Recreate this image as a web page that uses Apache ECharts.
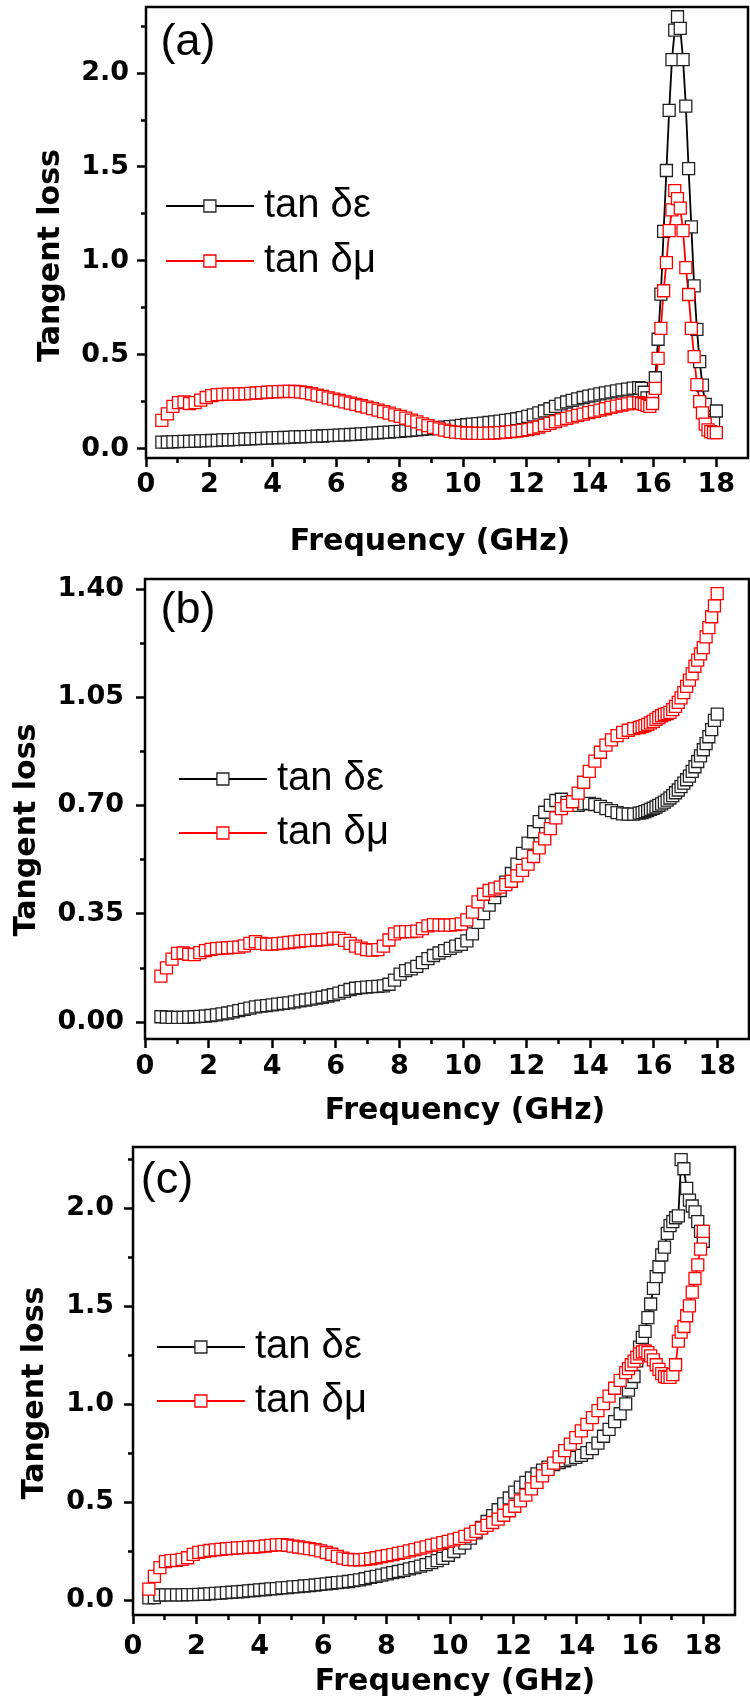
<!DOCTYPE html>
<html lang="en">
<head>
<meta charset="UTF-8">
<title>Tangent loss</title>
<script src="https://cdn.jsdelivr.net/npm/echarts@6/dist/echarts.min.js"></script>
</head>
<body style="margin:0;background:#fff">
<div id="container" style="width:750px;height:1704px"></div>
<script>
// frequency grid (GHz): coarse up to 15.55, fine after
var freq = [
  0.5, 0.675, 0.85, 1.025, 1.2, 1.375, 1.55, 1.725, 1.9, 2.075,
  2.25, 2.425, 2.6, 2.775, 2.95, 3.125, 3.3, 3.475, 3.65, 3.825,
  4.0, 4.175, 4.35, 4.525, 4.7, 4.875, 5.05, 5.225, 5.4, 5.575,
  5.75, 5.925, 6.1, 6.275, 6.45, 6.625, 6.8, 6.975, 7.15, 7.325,
  7.5, 7.675, 7.85, 8.025, 8.2, 8.375, 8.55, 8.725, 8.9, 9.075,
  9.25, 9.425, 9.6, 9.775, 9.95, 10.125, 10.3, 10.475, 10.65, 10.825,
  11.0, 11.175, 11.35, 11.525, 11.7, 11.875, 12.05, 12.225, 12.4, 12.575,
  12.75, 12.925, 13.1, 13.275, 13.45, 13.625, 13.8, 13.975, 14.15, 14.325,
  14.5, 14.675, 14.85, 15.025, 15.2, 15.375, 15.55,
  15.6375, 15.725, 15.8125, 15.9, 15.9875, 16.075, 16.1625, 16.25, 16.3375, 16.425,
  16.5125, 16.6, 16.6875, 16.775, 16.8625, 16.95, 17.0375, 17.125, 17.2125, 17.3,
  17.3875, 17.475, 17.5625, 17.65, 17.7375, 17.825, 17.9125, 18.0
];

// (a)
var epsA = [
  0.035, 0.035, 0.036, 0.037, 0.038, 0.039, 0.040, 0.041, 0.042, 0.043,
  0.044, 0.046, 0.047, 0.048, 0.049, 0.051, 0.052, 0.053, 0.054, 0.056,
  0.057, 0.058, 0.059, 0.060, 0.062, 0.063, 0.064, 0.065, 0.066, 0.067,
  0.069, 0.070, 0.072, 0.073, 0.075, 0.076, 0.078, 0.080, 0.082, 0.084,
  0.086, 0.088, 0.090, 0.092, 0.095, 0.097, 0.100, 0.102, 0.105, 0.108,
  0.111, 0.114, 0.117, 0.120, 0.124, 0.127, 0.130, 0.133, 0.136, 0.139,
  0.142, 0.146, 0.150, 0.154, 0.159, 0.165, 0.172, 0.180, 0.190, 0.200,
  0.212, 0.225, 0.238, 0.248, 0.257, 0.265, 0.272, 0.279, 0.285, 0.291,
  0.297, 0.302, 0.307, 0.312, 0.317, 0.322, 0.325,
  0.320, 0.300, 0.270, 0.235, 0.270, 0.377, 0.582, 0.822, 1.156, 1.480,
  1.800, 2.070, 2.227, 2.298, 2.236, 2.070, 1.823, 1.490, 1.180, 0.866,
  0.635, 0.463, 0.338, 0.235, 0.165, 0.150, 0.140, 0.200
];
var muA = [
  0.150, 0.185, 0.225, 0.245, 0.248, 0.240, 0.245, 0.258, 0.272, 0.282,
  0.287, 0.289, 0.290, 0.290, 0.291, 0.292, 0.294, 0.296, 0.298, 0.300,
  0.302, 0.303, 0.304, 0.305, 0.304, 0.302, 0.298, 0.292, 0.285, 0.278,
  0.270, 0.263, 0.256, 0.249, 0.242, 0.235, 0.228, 0.221, 0.213, 0.205,
  0.197, 0.189, 0.180, 0.171, 0.162, 0.152, 0.142, 0.132, 0.122, 0.113,
  0.105, 0.098, 0.092, 0.088, 0.085, 0.083, 0.082, 0.081, 0.081, 0.082,
  0.083, 0.085, 0.087, 0.090, 0.093, 0.097, 0.101, 0.107, 0.115, 0.124,
  0.134, 0.144, 0.153, 0.161, 0.169, 0.177, 0.184, 0.191, 0.198, 0.205,
  0.212, 0.219, 0.226, 0.232, 0.238, 0.243, 0.245,
  0.240, 0.235, 0.230, 0.225, 0.240, 0.320, 0.480, 0.640, 0.840, 0.990,
  1.160, 1.270, 1.373, 1.330, 1.280, 1.160, 0.963, 0.820, 0.640, 0.490,
  0.340, 0.250, 0.190, 0.130, 0.100, 0.090, 0.085, 0.085
];

// (b)
var epsB = [
  0.017, 0.016, 0.015, 0.015, 0.015, 0.016, 0.017, 0.018, 0.019, 0.021,
  0.023, 0.026, 0.029, 0.033, 0.037, 0.041, 0.045, 0.049, 0.051, 0.053,
  0.055, 0.058, 0.060, 0.062, 0.065, 0.068, 0.071, 0.074, 0.077, 0.080,
  0.084, 0.088, 0.093, 0.099, 0.105, 0.109, 0.111, 0.113, 0.114, 0.115,
  0.117, 0.122, 0.135, 0.155, 0.166, 0.172, 0.180, 0.192, 0.205, 0.215,
  0.223, 0.231, 0.238, 0.245, 0.251, 0.262, 0.285, 0.322, 0.350, 0.378,
  0.402, 0.425, 0.452, 0.480, 0.510, 0.545, 0.578, 0.615, 0.648, 0.678,
  0.700, 0.716, 0.720, 0.710, 0.700, 0.700, 0.705, 0.707, 0.703, 0.697,
  0.690, 0.683, 0.677, 0.673, 0.672, 0.672, 0.675,
  0.677, 0.680, 0.683, 0.687, 0.691, 0.695, 0.700, 0.705, 0.711, 0.717,
  0.724, 0.732, 0.741, 0.750, 0.761, 0.772, 0.783, 0.795, 0.810, 0.825,
  0.842, 0.860, 0.880, 0.900, 0.922, 0.945, 0.975, 0.995
];
var muB = [
  0.148, 0.175, 0.203, 0.222, 0.223, 0.219, 0.218, 0.224, 0.231, 0.235,
  0.237, 0.239, 0.240, 0.241, 0.242, 0.246, 0.254, 0.260, 0.254, 0.252,
  0.252, 0.253, 0.255, 0.257, 0.259, 0.261, 0.263, 0.264, 0.265, 0.266,
  0.268, 0.271, 0.270, 0.264, 0.254, 0.245, 0.239, 0.234, 0.232, 0.234,
  0.245, 0.265, 0.285, 0.291, 0.292, 0.292, 0.294, 0.302, 0.311, 0.315,
  0.314, 0.313, 0.313, 0.315, 0.317, 0.330, 0.355, 0.388, 0.413, 0.425,
  0.430, 0.436, 0.444, 0.455, 0.472, 0.490, 0.510, 0.535, 0.563, 0.592,
  0.625, 0.660, 0.690, 0.700, 0.712, 0.740, 0.775, 0.810, 0.843, 0.872,
  0.895, 0.912, 0.926, 0.936, 0.943, 0.948, 0.952,
  0.955, 0.958, 0.962, 0.967, 0.972, 0.978, 0.984, 0.990, 0.994, 0.997,
  1.001, 1.010, 1.020, 1.033, 1.048, 1.065, 1.085, 1.105, 1.125, 1.150,
  1.170, 1.190, 1.210, 1.245, 1.275, 1.310, 1.345, 1.385
];

// (c)
var epsC = [
  0.010, 0.012, 0.025, 0.026, 0.026, 0.026, 0.026, 0.027, 0.027, 0.028,
  0.029, 0.031, 0.033, 0.035, 0.037, 0.039, 0.041, 0.043, 0.046, 0.048,
  0.051, 0.053, 0.056, 0.058, 0.061, 0.063, 0.066, 0.068, 0.071, 0.073,
  0.076, 0.079, 0.082, 0.085, 0.088, 0.091, 0.094, 0.098, 0.102, 0.108,
  0.115, 0.120, 0.126, 0.133, 0.139, 0.145, 0.151, 0.158, 0.165, 0.172,
  0.180, 0.190, 0.200, 0.212, 0.228, 0.247, 0.265, 0.290, 0.315, 0.342,
  0.370, 0.400, 0.430, 0.460, 0.490, 0.520, 0.550, 0.575, 0.600, 0.622,
  0.643, 0.662, 0.678, 0.690, 0.700, 0.710, 0.718, 0.727, 0.738, 0.752,
  0.772, 0.800, 0.835, 0.870, 0.910, 0.950, 1.000,
  1.070, 1.110, 1.140, 1.220, 1.290, 1.340, 1.370, 1.440, 1.510, 1.590,
  1.650, 1.700, 1.760, 1.800, 1.870, 1.910, 1.930, 1.950, 1.960, 2.247,
  2.200, 2.100, 2.040, 2.010, 1.980, 1.930, 1.880, 1.830
];
var muC = [
  0.055, 0.120, 0.165, 0.195, 0.200, 0.202, 0.207, 0.215, 0.232, 0.243,
  0.248, 0.252, 0.255, 0.258, 0.261, 0.263, 0.265, 0.267, 0.269, 0.270,
  0.272, 0.275, 0.278, 0.281, 0.282, 0.279, 0.274, 0.270, 0.266, 0.262,
  0.257, 0.250, 0.242, 0.233, 0.222, 0.213, 0.207, 0.205, 0.205, 0.207,
  0.210, 0.215, 0.221, 0.226, 0.231, 0.237, 0.243, 0.250, 0.257, 0.264,
  0.271, 0.278, 0.285, 0.292, 0.299, 0.306, 0.314, 0.324, 0.336, 0.350,
  0.366, 0.380, 0.395, 0.412, 0.432, 0.455, 0.478, 0.505, 0.535, 0.567,
  0.600, 0.633, 0.666, 0.698, 0.730, 0.762, 0.795, 0.828, 0.862, 0.896,
  0.930, 0.966, 1.002, 1.040, 1.080, 1.120, 1.160,
  1.180, 1.200, 1.218, 1.238, 1.255, 1.265, 1.270, 1.262, 1.245, 1.225,
  1.200, 1.176, 1.155, 1.140, 1.135, 1.135, 1.150, 1.200, 1.320, 1.366,
  1.395, 1.450, 1.500, 1.570, 1.640, 1.710, 1.790, 1.880
];

// ticks
var xTicks = [0, 2, 4, 6, 8, 10, 12, 14, 16, 18];
var xMinor = [1, 3, 5, 7, 9, 11, 13, 15, 17];
var yTicksA = [0, 0.5, 1.0, 1.5, 2.0];
var yMinorA = [0.25, 0.75, 1.25, 1.75, 2.25];
var yTicksB = [0, 0.35, 0.70, 1.05, 1.40];
var yMinorB = [0.175, 0.525, 0.875, 1.225];
var yTicksC = [0, 0.5, 1.0, 1.5, 2.0];
var yMinorC = [0.25, 0.75, 1.25, 1.75, 2.25];

var seriesNames = ['tan δε', 'tan δμ'];
var panelTags = ['(a)', '(b)', '(c)'];

var panels = [
    {left: 146, top: 7, width: 602, height: 451, ymin: -0.05, ymax: 2.35,
     yTicks: yTicksA, yMinor: yMinorA, digits: 1, eps: epsA, mu: muA,
     yLabelGap: 17, xLabelGap: 13, xNameGap: 69, xNamePad: [0, 34, 0, 0],
     yNameGap: 80, yNamePad: [0, 46, 0, 0],
     legendLeft: 165, legendTop: 186, legendGap: 15, tag: [188, 43]},
    {left: 145, top: 579, width: 604, height: 460, ymin: -0.055, ymax: 1.432,
     yTicks: yTicksB, yMinor: yMinorB, digits: 2, eps: epsB, mu: muB,
     yLabelGap: 21, xLabelGap: 14, xNameGap: 57, xNamePad: [0, 0, 0, 36],
     yNameGap: 103, yNamePad: [0, 42, 0, 0],
     legendLeft: 178, legendTop: 759, legendGap: 14, tag: [188, 611]},
    {left: 133, top: 1147, width: 602, height: 468, ymin: -0.077, ymax: 2.311,
     yTicks: yTicksC, yMinor: yMinorC, digits: 1, eps: epsC, mu: muC,
     yLabelGap: 19, xLabelGap: 18, xNameGap: 52, xNamePad: [0, 0, 0, 42],
     yNameGap: 83, yNamePad: [0, 24, 0, 0],
     legendLeft: 156, legendTop: 1327, legendGap: 14, tag: [167, 1181]}
];

var tickFont = {fontFamily: 'DejaVu Sans', fontWeight: 'bold', fontSize: 27, color: '#000'};
var titleFont = {fontFamily: 'DejaVu Sans', fontWeight: 'bold', fontSize: 30, color: '#000'};
var tickLine = {color: '#000', width: 2.5};

var option = {
    animation: false,
    backgroundColor: '#fff',
    grid: [], xAxis: [], yAxis: [], series: [], legend: [], graphic: []
};

panels.forEach(function (p, i) {
    option.grid.push({
        left: p.left, top: p.top, width: p.width, height: p.height,
        show: true, borderColor: '#000', borderWidth: 2.5, backgroundColor: 'transparent'
    });

    // major / minor x axes
    option.xAxis.push({
        type: 'value', gridIndex: i, position: 'bottom', min: 0, max: 19,
        axisLine: {show: false, onZero: false}, splitLine: {show: false},
        axisTick: {customValues: xTicks, length: 9, lineStyle: tickLine},
        axisLabel: Object.assign({customValues: xTicks, margin: p.xLabelGap}, tickFont),
        name: 'Frequency (GHz)', nameLocation: 'middle', nameGap: p.xNameGap,
        nameTextStyle: Object.assign({padding: p.xNamePad}, titleFont)
    });
    option.xAxis.push({
        type: 'value', gridIndex: i, position: 'bottom', min: 0, max: 19,
        axisLine: {show: false, onZero: false}, splitLine: {show: false},
        axisTick: {customValues: xMinor, length: 5, lineStyle: tickLine},
        axisLabel: {show: false}
    });

    // major / minor y axes
    option.yAxis.push({
        type: 'value', gridIndex: i, position: 'left', min: p.ymin, max: p.ymax,
        axisLine: {show: false, onZero: false}, splitLine: {show: false},
        axisTick: {customValues: p.yTicks, length: 9, lineStyle: tickLine},
        axisLabel: Object.assign({
            customValues: p.yTicks, margin: p.yLabelGap,
            formatter: function (v) { return v.toFixed(p.digits); }
        }, tickFont),
        name: 'Tangent loss', nameLocation: 'middle', nameGap: p.yNameGap,
        nameTextStyle: Object.assign({padding: p.yNamePad}, titleFont)
    });
    option.yAxis.push({
        type: 'value', gridIndex: i, position: 'left', min: p.ymin, max: p.ymax,
        axisLine: {show: false, onZero: false}, splitLine: {show: false},
        axisTick: {customValues: p.yMinor, length: 5, lineStyle: tickLine},
        axisLabel: {show: false}
    });

    var curves = [
        {name: seriesNames[0], values: p.eps, line: '#000', edge: '#222'},
        {name: seriesNames[1], values: p.mu, line: '#ff0000', edge: '#ff0000'}
    ];
    curves.forEach(function (c) {
        option.series.push({
            type: 'line', name: c.name,
            xAxisIndex: 2 * i, yAxisIndex: 2 * i,
            data: freq.map(function (f, k) { return [f, c.values[k]]; }),
            symbol: 'rect', symbolSize: 12, showAllSymbol: true,
            lineStyle: {color: c.line, width: 1.8},
            itemStyle: {color: '#fff', borderColor: c.edge, borderWidth: 1.3},
            emphasis: {disabled: true}, silent: true
        });
    });

    option.legend.push({
        orient: 'vertical', left: p.legendLeft, top: p.legendTop, padding: 0,
        itemWidth: 88, itemHeight: 15, itemGap: p.legendGap, selectedMode: false,
        data: curves.map(function (c) {
            return {
                name: c.name,
                itemStyle: {color: '#fff', borderColor: c.edge, borderWidth: 1.3},
                lineStyle: {color: c.line, width: 1.8}
            };
        }),
        textStyle: {fontFamily: 'Liberation Sans', fontSize: 40, lineHeight: 40,
                    color: '#000', padding: [0, 0, 0, 5]}
    });

    option.graphic.push({
        type: 'text', x: p.tag[0], y: p.tag[1], silent: true,
        style: {text: panelTags[i], font: '45px "Liberation Sans"', fill: '#000',
                textAlign: 'center', textVerticalAlign: 'middle'}
    });
});

var myChart = echarts.init(document.getElementById('container'), null, {renderer: 'canvas'});
myChart.setOption(option);
</script>
</body>
</html>
